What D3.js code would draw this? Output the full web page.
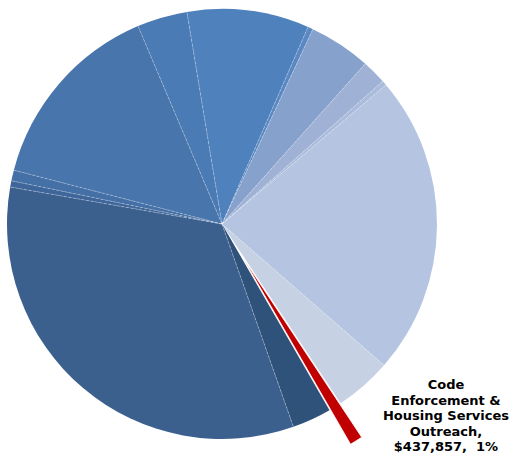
<!DOCTYPE html>
<html>
<head>
<meta charset="utf-8">
<script src="https://cdn.jsdelivr.net/npm/d3@7"></script>
<style>
  html, body { margin: 0; padding: 0; background: #ffffff; }
  svg { display: block; }
</style>
</head>
<body>
<svg id="chart" width="511" height="457"></svg>
<script>
// Budget allocation by program (dollars), listed clockwise from the first slice
const categories = [
  "Program A", "Program B", "Program C", "Program D", "Program E",
  "Program F", "Program G", "Code Enforcement & Housing Services Outreach",
  "Program H", "Program I", "Program J", "Program K", "Program L", "Program M"
];
const values = [
  4128000, 175000, 2101000, 826000, 163000,
  10183000, 1927000, 437857,
  1326000, 14924000, 213000, 363000, 6568000, 1701000
];
const colors = [
  "#4f81bd", "#5a88c2", "#86a1cc", "#9fb2d6", "#aabbdb",
  "#b5c4e0", "#c6d1e4", "#c00000",
  "#2f527a", "#3c608e", "#3f669a", "#4470a6", "#4875ab", "#4a7bb4"
];
// Slice pulled out of the pie and labelled
const highlightIndex = 7;
const labelLines = ["Code", "Enforcement &", "Housing Services", "Outreach,", "$437,857,  1%"];

const cx = 222, cy = 224, radius = 215, explode = 40;
const startDeg = -9.4;

const svg = d3.select("#chart");
const g = svg.append("g").attr("transform", `translate(${cx},${cy})`);

const pie = d3.pie()
  .sort(null)
  .value(d => d)
  .startAngle(startDeg * Math.PI / 180)
  .endAngle((startDeg + 360) * Math.PI / 180);

const arcs = pie(values);
const arc = d3.arc().innerRadius(0).outerRadius(radius);

g.selectAll("path.slice")
  .data(arcs)
  .join("path")
  .attr("class", "slice")
  .attr("fill", (d, i) => colors[i])
  .attr("transform", (d, i) => {
    if (i !== highlightIndex) return null;
    const mid = (d.startAngle + d.endAngle) / 2;
    return `translate(${explode * Math.sin(mid)},${-explode * Math.cos(mid)})`;
  })
  .attr("stroke", (d, i) => i === highlightIndex ? "#ffffff" : "none")
  .attr("stroke-width", (d, i) => i === highlightIndex ? 0.8 : 0)
  .attr("d", arc);

// Faint radial separators between neighbouring slices
const seps = arcs.filter((d, i) => i !== highlightIndex && i !== highlightIndex + 1);
g.selectAll("line.sep")
  .data(seps)
  .join("line")
  .attr("class", "sep")
  .attr("x1", 0).attr("y1", 0)
  .attr("x2", d => radius * Math.sin(d.startAngle))
  .attr("y2", d => -radius * Math.cos(d.startAngle))
  .attr("stroke", "#ffffff")
  .attr("stroke-opacity", 0.3)
  .attr("stroke-width", 1)
  .attr("stroke-dasharray", "3,1.5");

// Label for the pulled-out slice
const label = svg.append("text")
  .attr("x", 446)
  .attr("y", 389)
  .attr("text-anchor", "middle")
  .attr("font-family", "'DejaVu Sans', Verdana, sans-serif")
  .attr("font-weight", "bold")
  .attr("font-size", "13px")
  .attr("fill", "#000000");
label.selectAll("tspan")
  .data(labelLines)
  .join("tspan")
  .attr("x", 446)
  .attr("dy", (d, i) => i === 0 ? 0 : 15.6)
  .attr("xml:space", "preserve")
  .style("white-space", "pre")
  .text(d => d);
</script>
</body>
</html>
